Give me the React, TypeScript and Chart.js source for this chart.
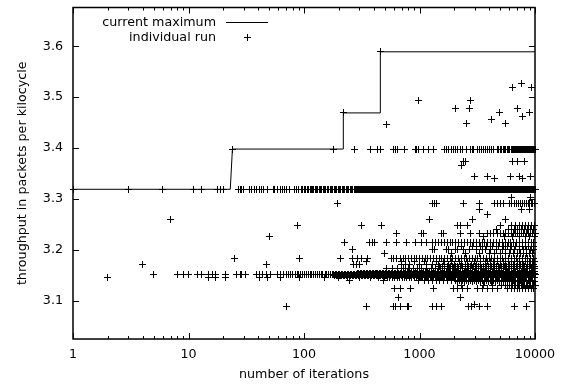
import React, { useEffect, useRef } from 'react';
import { Chart, registerables } from 'chart.js';

Chart.register(...registerables);

// ---- current maximum (step line) ----
const maxIters = [1, 23, 24, 218, 219, 457, 458, 10000];
const maxValues = [3.319, 3.319, 3.398, 3.398, 3.469, 3.469, 3.589, 3.589];

// ---- axis ticks ----
const xTickValues = [1, 10, 100, 1000, 10000];
const xTickLabels = ['1', '10', '100', '1000', '10000'];
const yTickValues = [3.1, 3.2, 3.3, 3.4, 3.5, 3.6];
const yTickLabels = ['3.1', '3.2', '3.3', '3.4', '3.5', '3.6'];

// ---- individual runs: iterations at which a run reached each throughput level ----
const runsAt3589 = [458];
const runsAt3527 = [7700];
const runsAt3518 = [6400, 9300];
const runsAt3493 = [980, 2770];
const runsAt3477 = [2040, 2690, 7000];
const runsAt3469 = [219, 4900, 8900];
const runsAt3461 = [7800];
const runsAt3457 = [4200];
const runsAt3449 = [2560, 5600];
const runsAt3446 = [520];
const runsAt3398 = [24, 179, 272, 373, 433, 456, 592, 620, 650, 735, 918, 945, 975, 1090, 1190, 1320, 1660, 1720, 1800, 1900, 1960, 2040, 2140, 2250, 2380, 2550, 2750, 2850, 2950, 3200, 3330, 3450, 3580, 3700, 3900, 4050, 4200, 4400, 4700, 4850, 5000, 5150, 5300, 5450, 5600, 5750, 5900, 6050, 6200, 6350, 6500, 6650, 6800, 6950, 7100, 7250, 7400, 7550, 7700, 7850, 8000, 8150, 8300, 8450, 8600, 8750, 8900, 9050, 9200, 9350, 9500, 9650, 9800, 9950, 10000];
const runsAt3373 = [2400, 2480, 6400, 7100, 8100];
const runsAt3366 = [2330];
const runsAt3345 = [3000, 3870, 6100, 7400, 9100];
const runsAt3340 = [4450, 7800];
const runsAt3319 = [1, 3, 6, 11, 13, 18, 19, 20, 27, 28, 29, 30, 34, 35, 37, 39, 41, 43, 45, 48, 54, 56, 59, 62, 65, 68, 71, 75, 82, 86, 90, 95, 98, 101, 104, 107, 110, 113, 116, 119, 122, 126, 129, 132, 136, 140, 143, 147, 151, 155, 159, 164, 168, 173, 177, 182, 187, 192, 197, 203, 208, 214, 220, 226, 232, 238, 245, 251, 258, 265, 272, 279, 286, 291, 297, 307, 314, 326, 333, 346, 353, 367, 375, 389, 398, 412, 423, 437, 447, 464, 476, 492, 505, 522, 535, 554, 568, 587, 603, 623, 640, 661, 679, 701, 720, 744, 764, 789, 811, 837, 860, 888, 913, 942, 968, 999, 1027, 1060, 1090, 1125, 1156, 1193, 1227, 1266, 1302, 1343, 1381, 1424, 1465, 1511, 1554, 1603, 1649, 1700, 1749, 1804, 1856, 1914, 1969, 2030, 2089, 2154, 2216, 2285, 2351, 2424, 2495, 2571, 2647, 2728, 2808, 2894, 2979, 3070, 3160, 3257, 3353, 3455, 3557, 3666, 3774, 3889, 4004, 4126, 4247, 4377, 4506, 4644, 4781, 4926, 5072, 5226, 5381, 5545, 5709, 5882, 6057, 6240, 6426, 6620, 6817, 7024, 7232, 7451, 7673, 7905, 8140, 8387, 8636, 8897, 9162, 9439, 9720, 9961, 10000];
const runsAt3318 = [294, 302, 311, 320, 330, 339, 350, 360, 371, 382, 394, 405, 417, 430, 442, 456, 470, 484, 498, 513, 529, 545, 561, 577, 595, 613, 631, 650, 670, 690, 710, 732, 754, 776, 800, 824, 848, 874, 900, 927, 955, 983, 1013, 1043, 1075, 1107, 1140, 1174, 1210, 1246, 1284, 1322, 1362, 1402, 1445, 1488, 1532, 1578, 1626, 1674, 1725, 1776, 1830, 1885, 1941, 2000, 2059, 2121, 2185, 2250, 2318, 2387, 2459, 2533, 2609, 2687, 2768, 2851, 2937, 3025, 3115, 3209, 3305, 3404, 3506, 3612, 3720, 3831, 3946, 4065, 4186, 4312, 4441, 4575, 4712, 4853, 4999, 5149, 5303, 5463, 5626, 5795, 5969, 6148, 6333, 6523, 6718, 6920, 7127, 7341, 7561, 7788, 8022, 8262, 8510, 8765, 9028, 9299, 9578, 9865];
const runsAt3302 = [6300, 9100];
const runsAt3291 = [195, 1300, 1350, 1400, 2400, 3300, 4500, 4750, 5000, 5300, 6000, 6300, 6600, 6900, 7200, 7500, 7800, 8100, 8400, 8700, 9000, 9300, 9600, 9900];
const runsAt3280 = [3300, 7700, 9000];
const runsAt3270 = [3900];
const runsAt3259 = [7, 1230, 2900, 5500];
const runsAt3248 = [88, 315, 470, 2150, 2250, 2600, 5000, 6200, 6800, 7300, 7800, 8300, 8800, 9400, 9900];
const runsAt3240 = [4600, 5900, 6600, 7100, 7600, 8100, 8600, 9100, 9700];
const runsAt3233 = [630, 1040, 1080, 1560, 1600, 2250, 2750, 3300, 3900, 4100, 4400, 4700, 5000, 5300, 5600, 5900, 6200, 6500, 6800, 7100, 7400, 7700, 8000, 8400, 8800, 9200, 9600, 10000];
const runsAt3226 = [50, 3600, 5400, 6400, 7300, 8200, 9000, 9900];
const runsAt3214 = [225, 372, 390, 410, 520, 635, 770, 920, 1040, 1160, 1300, 1380, 1460, 1550, 1640, 1740, 1840, 1950, 2070, 2190, 2320, 2460, 2600, 2760, 2920, 3100, 3280, 3480, 3680, 3900, 4130, 4380, 4640, 4910, 5200, 5510, 5840, 6180, 6550, 6940, 7350, 7780, 8240, 8730, 9250, 9790];
const runsAt3207 = [2300, 2900, 3400, 3800, 4300, 4800, 5300, 5800, 6300, 6800, 7300, 7800, 8300, 8800, 9300, 9800];
const runsAt3200 = [265, 1300, 1350, 1700, 1800, 2050, 2150, 2400, 2700, 3100, 3500, 3700, 4100, 4600, 5200, 5600, 6100, 6700, 7300, 7900, 8500, 9200, 9800];
const runsAt3193 = [495, 1900, 2500, 3300, 4000, 4500, 5000, 5500, 6000, 6500, 7000, 7500, 8000, 8500, 9000, 9500];
const runsAt3184 = [25, 91, 205, 265, 290, 315, 355, 570, 600, 635, 680, 720, 760, 800, 850, 900, 950, 1000, 1060, 1120, 1180, 1250, 1320, 1400, 1480, 1560, 1650, 1750, 1850, 1950, 2060, 2180, 2300, 2430, 2570, 2720, 2870, 3030, 3200, 3380, 3580, 3780, 4000, 4230, 4470, 4720, 4990, 5270, 5570, 5890, 6220, 6580, 6950, 7340, 7760, 8200, 8670, 9160, 9680];
const runsAt3177 = [350, 700, 900, 1100, 1400, 1600, 1900, 2200, 2600, 3000, 3400, 3700, 3900, 4150, 4400, 4700, 5000, 5300, 5600, 5950, 6300, 6650, 7000, 7400, 7800, 8200, 8600, 9050, 9500, 9950];
const runsAt3171 = [4, 47, 270, 285, 300, 700, 750, 820, 1000, 1150, 1300, 1450, 1650, 1800, 2000, 2300, 2500, 2800, 3100, 3400, 3700, 4100, 4500, 5000, 5500, 6000, 6500, 7000, 7500, 8000, 8600, 9200, 9800];
const runsAt3167 = [1500, 1580, 1660, 1750, 1840, 1940, 2040, 2150, 2260, 2380, 2500, 2630, 2770, 2920, 3070, 3230, 3400, 3580, 3770, 3970, 4180, 4400, 4630, 4870, 5130, 5400, 5680, 5980, 6300, 6630, 6980, 7350, 7740, 8140, 8570, 9020, 9500, 9990];
const runsAt3163 = [520, 580, 650, 730, 800, 880, 960, 1050, 1150, 1260, 1380, 1510, 1650, 1810, 1980, 2170, 2380, 2600, 2850, 3120, 3420, 3740, 4100, 4490, 4910, 5380, 5890, 6450, 7060, 7730, 8470, 9270, 9950];
const runsAt3158 = [700, 728, 757, 787, 819, 852, 886, 921, 958, 996, 1036, 1078, 1121, 1166, 1212, 1261, 1311, 1364, 1418, 1475, 1534, 1595, 1659, 1725, 1794, 1866, 1941, 2018, 2099, 2183, 2270, 2361, 2455, 2554, 2656, 2762, 2872, 2987, 3107, 3231, 3360, 3495, 3634, 3780, 3931, 4088, 4252, 4422, 4599, 4783, 4974, 5173, 5380, 5595, 5819, 6052, 6294, 6546, 6807, 7080, 7363, 7657, 7964, 8282, 8614, 8958, 9317, 9689, 9990];
const runsAt3153 = [291, 297, 307, 314, 326, 333, 346, 353, 367, 375, 389, 398, 412, 423, 437, 447, 464, 476, 492, 505, 522, 535, 554, 568, 587, 603, 623, 640, 661, 679, 701, 720, 744, 764, 789, 811, 837, 860, 888, 913, 942, 968, 999, 1027, 1060, 1090, 1125, 1156, 1193, 1227, 1266, 1302, 1343, 1381, 1424, 1465, 1511, 1554, 1603, 1649, 1700, 1749, 1804, 1856, 1914, 1969, 2030, 2089, 2154, 2216, 2285, 2351, 2424, 2495, 2571, 2647, 2728, 2808, 2894, 2979, 3070, 3160, 3257, 3353, 3455, 3557, 3666, 3774, 3889, 4004, 4126, 4247, 4377, 4506, 4644, 4781, 4926, 5072, 5226, 5381, 5545, 5709, 5882, 6057, 6240, 6426, 6620, 6817, 7024, 7232, 7451, 7673, 7905, 8140, 8387, 8636, 8897, 9162, 9439, 9720, 9961];
const runsAt3152 = [5, 8, 9, 10, 12, 13, 15, 16, 17, 21, 26, 28, 29, 31, 39, 41, 44, 47, 51, 59, 63, 66, 71, 74, 77, 80, 84, 87, 90, 94, 97, 101, 105, 109, 113, 117, 122, 126, 131, 136, 141, 146, 152, 157, 163, 169, 175, 181, 187, 192, 198, 204, 210, 216, 223, 229, 236, 243, 251, 258, 266, 274, 282, 294, 302, 311, 320, 330, 339, 350, 360, 371, 382, 394, 405, 417, 430, 442, 456, 470, 484, 498, 513, 529, 545, 561, 577, 595, 613, 631, 650, 670, 690, 710, 732, 754, 776, 800, 824, 848, 874, 900, 927, 955, 983, 1013, 1043, 1075, 1107, 1140, 1174, 1210, 1246, 1284, 1322, 1362, 1402, 1445, 1488, 1532, 1578, 1626, 1674, 1725, 1776, 1830, 1885, 1941, 2000, 2059, 2121, 2185, 2250, 2318, 2387, 2459, 2533, 2609, 2687, 2768, 2851, 2937, 3025, 3115, 3209, 3305, 3404, 3506, 3612, 3720, 3831, 3946, 4065, 4186, 4312, 4441, 4575, 4712, 4853, 4999, 5149, 5303, 5463, 5626, 5795, 5969, 6148, 6333, 6523, 6718, 6920, 7127, 7341, 7561, 7788, 8022, 8262, 8510, 8765, 9028, 9299, 9578, 9865, 10000];
const runsAt3149 = [184, 190, 195, 201, 207, 213, 220, 226, 233, 240, 247, 255, 262, 270, 278, 287, 295, 304, 313, 323, 332, 342, 352, 363, 374, 385, 397, 409, 421, 434, 447, 460, 474, 488, 503, 518, 533, 549, 566, 583, 600, 618, 637, 656, 676, 696, 717, 738, 760, 783, 807, 831, 856, 882, 908, 935, 963, 992];
const runsAt3146 = [2, 15, 17, 21, 41, 48, 62, 92, 150, 200, 240, 300, 380, 440, 500, 526, 552, 580, 610, 640, 672, 706, 741, 778, 817, 858, 901, 946, 993, 1043, 1095, 1150, 1207, 1268, 1331, 1398, 1468, 1541, 1618, 1699, 1784, 1873, 1967, 2065, 2168, 2277, 2391, 2510, 2636, 2767, 2906, 3051, 3204, 3364, 3532, 3709, 3894, 4089, 4293, 4508, 4733, 4970, 5219, 5480, 5754, 6041, 6343, 6661, 6994, 7343, 7711, 8096, 8501, 8926, 9372, 9840];
const runsAt3145 = [1020, 1070, 1120, 1180, 1240, 1300, 1365, 1430, 1505, 1580, 1660, 1740, 1830, 1920, 2015, 2115, 2220, 2335, 2450, 2570, 2700, 2835, 2980, 3130, 3285, 3450, 3620, 3800, 3990, 4190, 4400, 4620, 4850, 5095, 5350, 5615, 5895, 6190, 6500, 6825, 7165, 7525, 7900, 8295, 8710, 9145, 9600, 9950];
const runsAt3139 = [250, 485, 980, 1100, 1190, 1290, 1390, 1500, 1620, 1750, 1890, 2040, 2200, 2380, 2570, 2780, 3000, 3240, 3500, 3780, 4080, 4410, 4760, 5140, 5550, 6000, 6480, 7000, 7560, 8160, 8810, 9520];
const runsAt3138 = [2120, 2290, 2470, 2670, 2890, 3120, 3370, 3640, 3930, 4240, 4580, 4950, 5340, 5770, 6240, 6740, 7280, 7860, 8490, 9170, 9900];
const runsAt3131 = [2300, 3600, 4300, 5100, 5600, 5800, 6000, 6200, 6400, 6600, 6800, 7000, 7200, 7400, 7650, 7900, 8150, 8400, 8650, 8900, 9200, 9500, 9800, 10000];
const runsAt3125 = [610, 680, 830, 1320, 1960, 2150, 2350, 2600, 3200, 3500, 3900, 4300, 4700, 5800, 6200, 6600, 7000, 7400, 7800, 8300, 8800, 9300, 9700];
const runsAt3107 = [660, 2250];
const runsAt3092 = [3000];
const runsAt3088 = [70, 350, 590, 620, 680, 780, 800, 1300, 1400, 1550, 2650, 2800, 3300, 3900, 6700, 8500];

const runLevels: [number, number[]][] = [
  [3.589, runsAt3589], [3.527, runsAt3527], [3.518, runsAt3518], [3.493, runsAt3493],
  [3.477, runsAt3477], [3.469, runsAt3469], [3.461, runsAt3461], [3.457, runsAt3457],
  [3.449, runsAt3449], [3.446, runsAt3446], [3.398, runsAt3398], [3.373, runsAt3373],
  [3.366, runsAt3366], [3.345, runsAt3345], [3.340, runsAt3340], [3.319, runsAt3319],
  [3.318, runsAt3318], [3.302, runsAt3302], [3.291, runsAt3291], [3.280, runsAt3280],
  [3.270, runsAt3270], [3.259, runsAt3259], [3.248, runsAt3248], [3.240, runsAt3240],
  [3.233, runsAt3233], [3.226, runsAt3226], [3.214, runsAt3214], [3.207, runsAt3207],
  [3.200, runsAt3200], [3.193, runsAt3193], [3.184, runsAt3184], [3.177, runsAt3177],
  [3.171, runsAt3171], [3.167, runsAt3167], [3.163, runsAt3163], [3.158, runsAt3158],
  [3.153, runsAt3153], [3.152, runsAt3152], [3.149, runsAt3149], [3.146, runsAt3146],
  [3.145, runsAt3145], [3.139, runsAt3139], [3.138, runsAt3138], [3.131, runsAt3131],
  [3.125, runsAt3125], [3.107, runsAt3107], [3.092, runsAt3092], [3.088, runsAt3088],
];

const FONT = '"DejaVu Sans", Verdana, sans-serif';
const FONT_SIZE = 12.7;

function makeCrossImage(): HTMLCanvasElement {
  const c = document.createElement('canvas');
  c.width = 7;
  c.height = 7;
  const g = c.getContext('2d')!;
  g.fillStyle = '#000';
  g.fillRect(3, 0, 1, 7);
  g.fillRect(0, 3, 7, 1);
  return c;
}

const crispPoints = {
  id: 'crispPoints',
  beforeDatasetsDraw(chart: any) {
    chart.ctx.imageSmoothingEnabled = false;
  },
  afterDatasetsDraw(chart: any) {
    chart.ctx.imageSmoothingEnabled = true;
  },
};

const gnuplotFrame = {
  id: 'gnuplotFrame',
  afterDraw(chart: any) {
    const { ctx, chartArea: a, scales } = chart;
    const xs = scales.x;
    const ys = scales.y;
    ctx.save();
    ctx.strokeStyle = '#000';
    ctx.lineWidth = 1;
    ctx.beginPath();
    for (const v of yTickValues) {
      const py = Math.round(ys.getPixelForValue(v)) + 0.5;
      ctx.moveTo(a.left, py); ctx.lineTo(a.left + 6, py);
      ctx.moveTo(a.right, py); ctx.lineTo(a.right - 6, py);
    }
    for (let d = 0; d <= 4; d++) {
      for (let m = 1; m <= 9; m++) {
        const v = m * Math.pow(10, d);
        if (v > 10000) break;
        const px = Math.round(xs.getPixelForValue(v)) + 0.5;
        const len = m === 1 ? 6 : 3;
        ctx.moveTo(px, a.bottom); ctx.lineTo(px, a.bottom - len);
        ctx.moveTo(px, a.top); ctx.lineTo(px, a.top + len);
      }
    }
    ctx.stroke();
    ctx.lineWidth = 1.5;
    ctx.strokeRect(a.left, a.top, a.right - a.left, a.bottom - a.top);

    // key
    const ds = chart.data.datasets;
    ctx.fillStyle = '#000';
    ctx.font = FONT_SIZE + 'px ' + FONT;
    ctx.textAlign = 'right';
    ctx.textBaseline = 'middle';
    ctx.fillText(ds[0].label, 216, 22.5);
    ctx.fillText(ds[1].label, 216, 37.5);
    ctx.lineWidth = 1;
    ctx.beginPath();
    ctx.moveTo(226, 22.5); ctx.lineTo(268, 22.5);
    ctx.stroke();
    ctx.fillRect(247, 34, 1, 7);
    ctx.fillRect(244, 37, 7, 1);
    ctx.restore();
  },
};

export default function App() {
  const ref = useRef<HTMLCanvasElement | null>(null);
  useEffect(() => {
    if (!ref.current) return;
    const linePts = maxIters.map((x, i) => ({ x, y: maxValues[i] }));
    const runPts = runLevels.flatMap(([y, xs]) => xs.map((x) => ({ x, y })));
    const cross = makeCrossImage();
    const chart = new Chart(ref.current, {
      type: 'scatter',
      data: {
        datasets: [
          {
            label: 'current maximum',
            data: linePts,
            showLine: true,
            borderColor: '#000',
            borderWidth: 1,
            pointRadius: 0,
            tension: 0,
          } as any,
          {
            label: 'individual run',
            data: runPts,
            pointStyle: cross,
            pointRadius: 3.5,
            borderColor: '#000',
            backgroundColor: '#000',
            borderWidth: 1,
            clip: false,
          } as any,
        ],
      },
      options: {
        responsive: false,
        animation: false,
        events: [],
        layout: { padding: { top: 7.5, right: 33, bottom: 0, left: 0 } },
        plugins: { legend: { display: false }, tooltip: { enabled: false } },
        scales: {
          x: {
            type: 'logarithmic',
            min: 1,
            max: 10000,
            grid: { display: false, drawTicks: false },
            border: { display: false },
            afterBuildTicks: (s: any) => { s.ticks = xTickValues.map((v) => ({ value: v })); },
            afterFit: (s: any) => { s.height = 51; s.paddingLeft = 0; s.paddingRight = 0; },
            ticks: {
              autoSkip: false,
              maxRotation: 0,
              padding: 8,
              color: '#000',
              font: { family: FONT, size: FONT_SIZE },
              callback: (_v: any, i: number) => xTickLabels[i],
            },
            title: {
              display: true,
              text: 'number of iterations',
              color: '#000',
              font: { family: FONT, size: FONT_SIZE },
              padding: { top: 0, bottom: 8 },
            },
          },
          y: {
            type: 'linear',
            min: 3.025,
            max: 3.676,
            grid: { display: false, drawTicks: false },
            border: { display: false },
            afterBuildTicks: (s: any) => { s.ticks = yTickValues.map((v) => ({ value: v })); },
            afterFit: (s: any) => { s.width = 73; s.paddingTop = 0; s.paddingBottom = 0; },
            ticks: {
              padding: 10,
              color: '#000',
              font: { family: FONT, size: FONT_SIZE },
              callback: (_v: any, i: number) => yTickLabels[i],
            },
            title: {
              display: true,
              text: 'throughput in packets per kilocycle',
              color: '#000',
              font: { family: FONT, size: FONT_SIZE },
              padding: { top: 15, bottom: 0 },
            },
          },
        },
      } as any,
      plugins: [crispPoints, gnuplotFrame],
    });
    return () => chart.destroy();
  }, []);
  return (
    <div style={{ position: 'fixed', left: 0, top: 0, width: 568, height: 390, background: '#fff' }}>
      <canvas ref={ref} width={568} height={390} style={{ display: 'block' }} />
    </div>
  );
}
